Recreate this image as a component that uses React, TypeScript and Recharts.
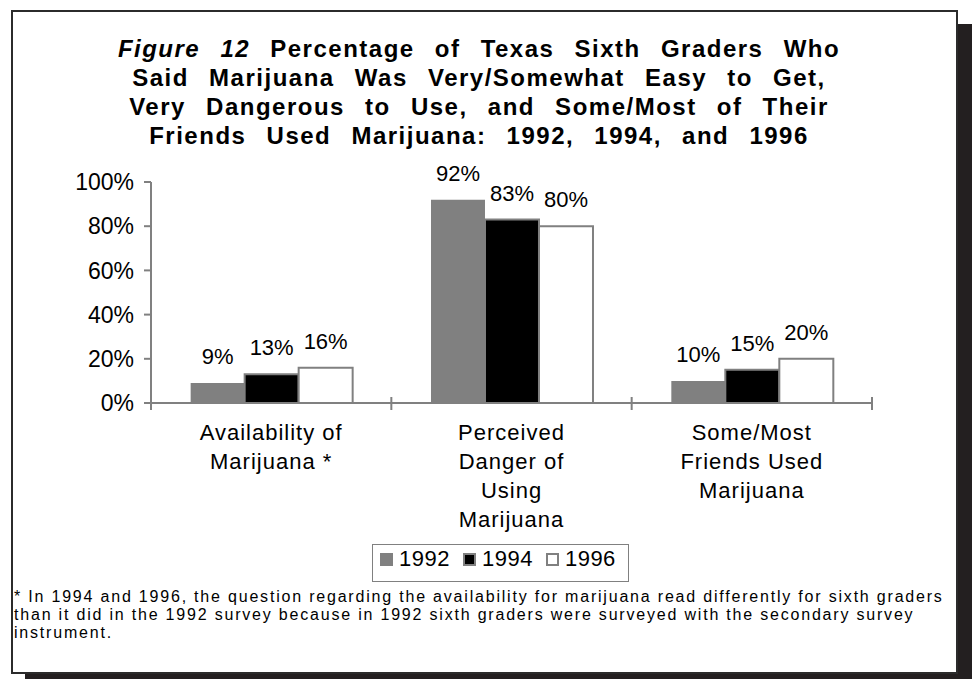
import React from "react";
import { Bar, BarChart, LabelList, XAxis, YAxis } from "recharts";

const categories = [
  "Availability of\nMarijuana *",
  "Perceived\nDanger of\nUsing\nMarijuana",
  "Some/Most\nFriends Used\nMarijuana",
];
const years = ["1992", "1994", "1996"];
const values1992 = [9, 92, 10];
const values1994 = [13, 83, 15];
const values1996 = [16, 80, 20];
const yTicks = [0, 20, 40, 60, 80, 100];

const titleLines = [
  "Percentage of Texas Sixth Graders Who",
  "Said Marijuana Was Very/Somewhat Easy to Get,",
  "Very Dangerous to Use, and Some/Most of Their",
  "Friends Used Marijuana: 1992, 1994, and 1996",
];
const noteLines = [
  "* In 1994 and 1996, the question regarding the availability for marijuana read differently for sixth graders",
  "than it did in the 1992 survey because in 1992 sixth graders were surveyed with the secondary survey",
  "instrument.",
];

const FONT = "'Liberation Sans', Arial, Helvetica, sans-serif";
const GRID = "#808080";

// per-series look: 1992 solid gray, 1994 black with gray edge, 1996 hollow
const seriesStyle = [
  { fill: "#808080", stroke: "none", strokeWidth: 0 },
  { fill: "#000000", stroke: GRID, strokeWidth: 2 },
  { fill: "#ffffff", stroke: GRID, strokeWidth: 2 },
];

const data = categories.map((name, i) => ({
  name,
  y1992: values1992[i],
  y1994: values1994[i],
  y1996: values1996[i],
}));

// category labels plus tick marks on the band edges
function CategoryTick(props: any) {
  const { x, y, payload, width, visibleTicksCount, index } = props;
  const band =
    payload && payload.offset ? payload.offset * 2 : width / visibleTicksCount;
  const lines = String(payload.value).split("\n");
  const left = x - band / 2;
  const right = x + band / 2;
  return (
    <g>
      <line x1={left} x2={left} y1={y - 6} y2={y + 7} stroke={GRID} strokeWidth={2} />
      {index === visibleTicksCount - 1 && (
        <line x1={right} x2={right} y1={y - 6} y2={y + 7} stroke={GRID} strokeWidth={2} />
      )}
      <text
        textAnchor="middle"
        fontSize={22}
        letterSpacing={1}
        fill="#000"
        fontFamily={FONT}
      >
        {lines.map((line, i) => (
          <tspan key={i} x={x} y={y + 37 + i * 29}>
            {line}
          </tspan>
        ))}
      </text>
    </g>
  );
}

export default function App() {
  return (
    <div
      style={{
        position: "absolute",
        left: 0,
        top: 0,
        width: 974,
        height: 679,
        background: "#fff",
        fontFamily: FONT,
        overflow: "hidden",
      }}
    >
      <div
        style={{
          position: "absolute",
          left: 11,
          top: 10,
          width: 947,
          height: 664,
          boxSizing: "border-box",
          border: "2px solid #2b2b2b",
          boxShadow: "14px 14px 0 #231f20",
          background: "#fff",
        }}
      />

      <div
        style={{
          position: "absolute",
          left: 0,
          top: 34,
          width: 958,
          textAlign: "center",
          fontSize: 24,
          fontWeight: 700,
          lineHeight: "29px",
          letterSpacing: 1.5,
          wordSpacing: 12,
          color: "#000",
        }}
      >
        {titleLines.map((line, i) => (
          <div key={i}>
            {i === 0 && <i>Figure 12 </i>}
            {line}
          </div>
        ))}
      </div>

      <div style={{ position: "absolute", left: 0, top: 0 }}>
        <BarChart
          width={974}
          height={540}
          data={data}
          margin={{ top: 182, right: 102, bottom: 7, left: 71 }}
          barCategoryGap="16.5%"
          barGap={0}
        >
          <XAxis
            dataKey="name"
            height={130}
            axisLine={{ stroke: GRID, strokeWidth: 2 }}
            tickLine={false}
            tickSize={0}
            tickMargin={0}
            interval={0}
            tick={<CategoryTick />}
          />
          <YAxis
            width={80}
            domain={[0, 100]}
            ticks={yTicks}
            tickFormatter={(v: number) => `${v}%`}
            axisLine={{ stroke: GRID, strokeWidth: 2 }}
            tickLine={{ stroke: GRID, strokeWidth: 2 }}
            tickSize={7}
            tickMargin={10}
            tick={{ fontSize: 23, fill: "#000", fontFamily: FONT }}
          />
          {years.map((year, i) => (
            <Bar
              key={year}
              dataKey={`y${year}`}
              name={year}
              fill={seriesStyle[i].fill}
              stroke={seriesStyle[i].stroke}
              strokeWidth={seriesStyle[i].strokeWidth}
              isAnimationActive={false}
            >
              <LabelList
                dataKey={`y${year}`}
                position="top"
                offset={19}
                formatter={(v: any) => `${v}%`}
                fill="#000"
                fontSize={22}
                fontFamily={FONT}
              />
            </Bar>
          ))}
        </BarChart>
      </div>

      <div
        style={{
          position: "absolute",
          left: 372,
          top: 544,
          width: 257,
          height: 38,
          boxSizing: "border-box",
          border: "1px solid #808080",
          display: "flex",
          alignItems: "center",
          paddingLeft: 7,
          paddingBottom: 8,
          gap: 13,
          fontSize: 22,
          letterSpacing: 0.5,
          color: "#000",
        }}
      >
        {years.map((year, i) => (
          <div key={year} style={{ display: "flex", alignItems: "center", gap: 6 }}>
            <span
              style={{
                display: "inline-block",
                width: 13,
                height: 13,
                boxSizing: "border-box",
                background: seriesStyle[i].fill,
                border: i === 0 ? "none" : `2px solid ${GRID}`,
              }}
            />
            <span style={{ lineHeight: "24px" }}>{year}</span>
          </div>
        ))}
      </div>

      <div
        style={{
          position: "absolute",
          left: 14,
          top: 588,
          fontSize: 16,
          lineHeight: "18px",
          letterSpacing: 1.8,
          color: "#000",
          whiteSpace: "nowrap",
        }}
      >
        {noteLines.map((line, i) => (
          <div key={i}>{line}</div>
        ))}
      </div>
    </div>
  );
}
